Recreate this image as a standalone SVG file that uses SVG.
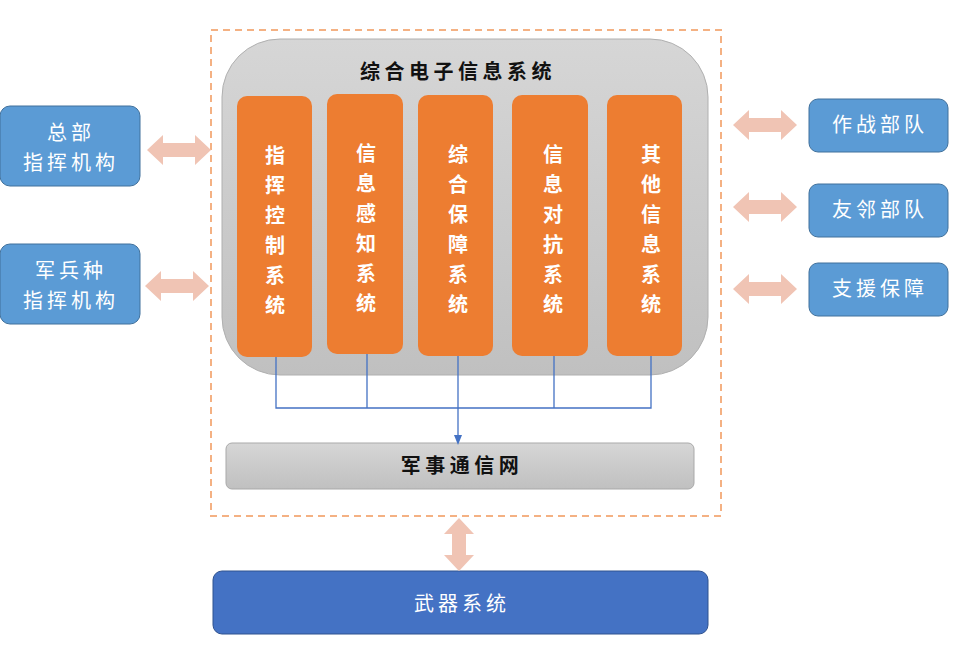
<svg xmlns="http://www.w3.org/2000/svg" width="956" height="645" viewBox="0 0 956 645">
<style>
.lt{fill:#5B9BD5;stroke:#41719C;stroke-width:1}
.ob{fill:#ED7D31}
.wt{fill:#fff;font-family:"Noto Sans CJK SC","Noto Sans",sans-serif;font-size:20px;text-anchor:middle;letter-spacing:4px}
.vt{fill:#fff;font-family:"Noto Sans CJK SC","Noto Sans",sans-serif;font-size:20px;font-weight:bold;text-anchor:middle}
.bt{fill:#111;font-family:"Noto Sans CJK SC","Noto Sans",sans-serif;font-size:20px;font-weight:bold;text-anchor:middle;letter-spacing:4.5px}
.ar{fill:#F0C4B4}
.ln{stroke:#4472C4;stroke-width:1.3;fill:none}
</style>
<defs>
<linearGradient id="g" x1="0" y1="0" x2="0" y2="1"><stop offset="0" stop-color="#d6d6d6"/><stop offset="1" stop-color="#c0c0c0"/></linearGradient>
<marker id="ah" markerWidth="10" markerHeight="10" refX="5" refY="5" orient="auto" markerUnits="userSpaceOnUse"><path d="M0,1 L10,5 L0,9 Z" fill="#4472C4"/></marker>
</defs>
<rect x="0" y="0" width="956" height="645" fill="#fff"/>
<rect x="211" y="30" width="510" height="486" fill="none" stroke="#F4B183" stroke-width="2" stroke-dasharray="7,5"/>
<g id="eis">
<rect x="222" y="39" width="486" height="336" rx="58" fill="url(#g)" stroke="#b0b0b0"/>
<text class="bt" x="458" y="79">综合电子信息系统</text>
</g>
<g id="s1"><rect class="ob" x="237" y="96" width="75" height="261" rx="10"/>
<text class="vt"><tspan x="275" y="163">指</tspan><tspan x="275" y="193">挥</tspan><tspan x="275" y="223">控</tspan><tspan x="275" y="253">制</tspan><tspan x="275" y="283">系</tspan><tspan x="275" y="313">统</tspan></text></g>
<g id="s2"><rect class="ob" x="327" y="94" width="76" height="260" rx="10"/>
<text class="vt"><tspan x="366" y="161">信</tspan><tspan x="366" y="191">息</tspan><tspan x="366" y="221">感</tspan><tspan x="366" y="251">知</tspan><tspan x="366" y="281">系</tspan><tspan x="366" y="311">统</tspan></text></g>
<g id="s3"><rect class="ob" x="418" y="95" width="75" height="261" rx="10"/>
<text class="vt"><tspan x="458" y="162">综</tspan><tspan x="458" y="192">合</tspan><tspan x="458" y="222">保</tspan><tspan x="458" y="252">障</tspan><tspan x="458" y="282">系</tspan><tspan x="458" y="312">统</tspan></text></g>
<g id="s4"><rect class="ob" x="512" y="95" width="76" height="261" rx="10"/>
<text class="vt"><tspan x="553" y="162">信</tspan><tspan x="553" y="192">息</tspan><tspan x="553" y="222">对</tspan><tspan x="553" y="252">抗</tspan><tspan x="553" y="282">系</tspan><tspan x="553" y="312">统</tspan></text></g>
<g id="s5"><rect class="ob" x="607" y="95" width="75" height="261" rx="10"/>
<text class="vt"><tspan x="651" y="162">其</tspan><tspan x="651" y="192">他</tspan><tspan x="651" y="222">信</tspan><tspan x="651" y="252">息</tspan><tspan x="651" y="282">系</tspan><tspan x="651" y="312">统</tspan></text></g>
<g id="net"><rect x="226" y="443" width="468" height="46" rx="6" fill="url(#g)" stroke="#a9a9a9"/>
<text class="bt" x="462" y="473">军事通信网</text></g>
<g id="hq"><rect class="lt" x="0" y="106" width="140" height="80" rx="10"/>
<text class="wt" x="71" y="140">总部</text><text class="wt" x="71" y="170">指挥机构</text></g>
<g id="arm"><rect class="lt" x="0" y="244" width="140" height="80" rx="10"/>
<text class="wt" x="71" y="278">军兵种</text><text class="wt" x="71" y="308">指挥机构</text></g>
<g id="r1"><rect class="lt" x="809" y="99" width="139" height="53" rx="9"/><text class="wt" x="880" y="132">作战部队</text></g>
<g id="r2"><rect class="lt" x="809" y="184" width="139" height="53" rx="9"/><text class="wt" x="880" y="217">友邻部队</text></g>
<g id="r3"><rect class="lt" x="809" y="263" width="139" height="53" rx="9"/><text class="wt" x="880" y="296">支援保障</text></g>
<g id="wpn"><rect x="213" y="571" width="495" height="63" rx="9" fill="#4472C4" stroke="#2F528F"/>
<text class="wt" x="462" y="611">武器系统</text></g>
<g id="connectors">
<path class="ar" d="M147,150 L163,135 L163,143 L195,143 L195,135 L211,150 L195,165 L195,157 L163,157 L163,165 Z"/>
<path class="ar" d="M145,286 L161,271 L161,279 L193,279 L193,271 L209,286 L193,301 L193,293 L161,293 L161,301 Z"/>
<path class="ar" d="M733,125 L749,110 L749,118 L781,118 L781,110 L797,125 L781,140 L781,132 L749,132 L749,140 Z"/>
<path class="ar" d="M733,207 L749,192 L749,200 L781,200 L781,192 L797,207 L781,222 L781,214 L749,214 L749,222 Z"/>
<path class="ar" d="M733,289 L749,274 L749,282 L781,282 L781,274 L797,289 L781,304 L781,296 L749,296 L749,304 Z"/>
<path class="ar" d="M459,518 L474,534 L466,534 L466,555 L474,555 L459,571 L444,555 L452,555 L452,534 L444,534 Z"/>
<path class="ln" d="M276,357 V408 H651 V356 M367,354 V408 M554,356 V408"/>
<path class="ln" d="M458,356 V440" marker-end="url(#ah)"/>
</g>
</svg>
